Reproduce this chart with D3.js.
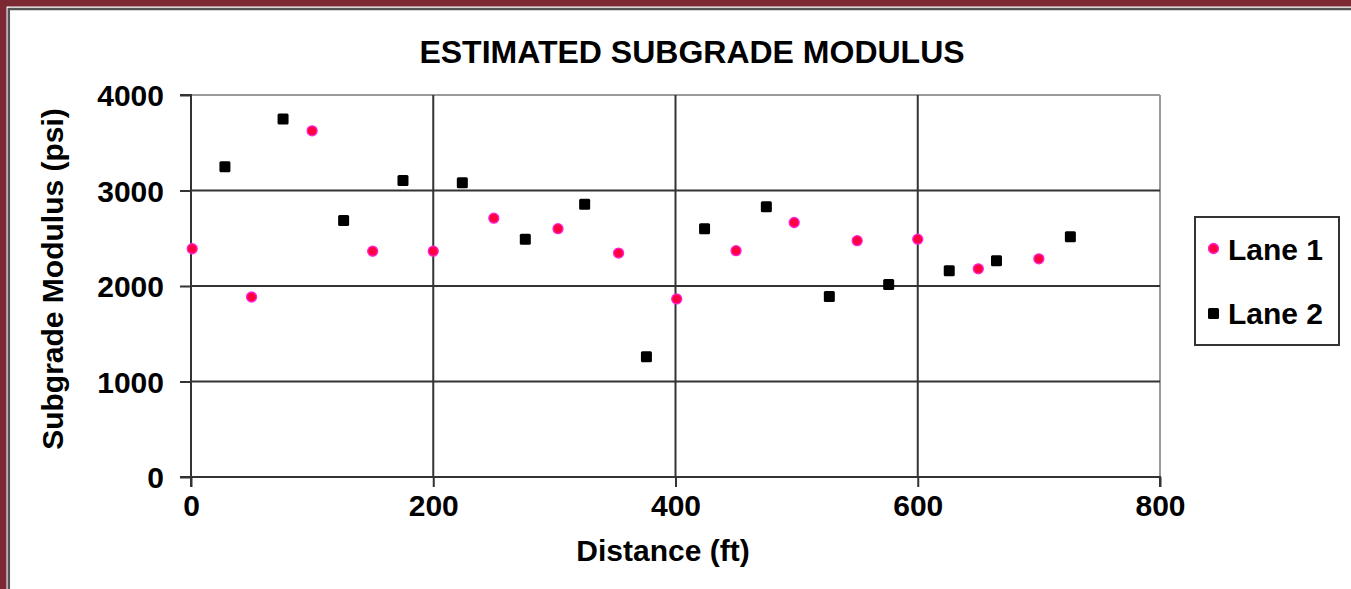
<!DOCTYPE html>
<html>
<head>
<meta charset="utf-8">
<script src="https://cdn.jsdelivr.net/npm/d3@7"></script>
<style>
  html, body { margin: 0; padding: 0; background: #fff; }
  svg { display: block; }
  text { font-family: "Liberation Sans", Arial, sans-serif; font-weight: bold; fill: #000; }
</style>
</head>
<body>
<svg id="chart" width="1351" height="589"></svg>
<script>
const title = "ESTIMATED SUBGRADE MODULUS";
const xTitle = "Distance (ft)";
const yTitle = "Subgrade Modulus (psi)";
const seriesNames = ["Lane 1", "Lane 2"];

const lane1Distance = [1, 50, 100, 150, 200, 250, 303, 353, 401, 450, 498, 550, 600, 650, 700];
const lane1Modulus  = [2390, 1885, 3625, 2365, 2365, 2710, 2600, 2345, 1865, 2370, 2665, 2475, 2490, 2180, 2285];

const lane2Distance = [28, 76, 126, 175, 224, 276, 325, 376, 424, 475, 527, 576, 626, 665, 726];
const lane2Modulus  = [3250, 3750, 2685, 3105, 3080, 2490, 2855, 1260, 2600, 2830, 1890, 2015, 2160, 2265, 2515];

const xTicks = [0, 200, 400, 600, 800];
const yTicks = [0, 1000, 2000, 3000, 4000];

(function () {
const svg = d3.select("#chart");
const W = 1351, H = 589;

// Frame
svg.append("rect").attr("x", 0).attr("y", 0).attr("width", W).attr("height", H).attr("fill", "#fff");
svg.append("rect").attr("x", 0).attr("y", 0).attr("width", W).attr("height", 6.5).attr("fill", "#7d2933");
svg.append("rect").attr("x", 0).attr("y", 0).attr("width", 6.5).attr("height", H).attr("fill", "#7d2933");
svg.append("line").attr("x1", 8.5).attr("x2", W).attr("y1", 9).attr("y2", 9).attr("stroke", "#555").attr("stroke-width", 2.5);
svg.append("line").attr("x1", 8.8).attr("x2", 8.8).attr("y1", 8).attr("y2", H).attr("stroke", "#555").attr("stroke-width", 2.5);

const pL = 191, pR = 1160, pT = 95, pB = 477;
const x = d3.scaleLinear().domain([0, 800]).range([pL, pR]);
const y = d3.scaleLinear().domain([0, 4000]).range([pB, pT]);

// Plot border (top/right lighter)
svg.append("line").attr("x1", pL).attr("x2", pR).attr("y1", pT).attr("y2", pT).attr("stroke", "#9a9a9a").attr("stroke-width", 2);
svg.append("line").attr("x1", pR).attr("x2", pR).attr("y1", pT).attr("y2", pB).attr("stroke", "#9a9a9a").attr("stroke-width", 2);

// Gridlines
const g = svg.append("g");
g.selectAll("line.hg").data(yTicks.filter(d => d > 0 && d < 4000)).enter().append("line")
  .attr("x1", pL).attr("x2", pR).attr("y1", d => y(d)).attr("y2", d => y(d))
  .attr("stroke", "#333").attr("stroke-width", 2);
g.selectAll("line.vg").data(xTicks.filter(d => d > 0 && d < 800)).enter().append("line")
  .attr("x1", d => x(d)).attr("x2", d => x(d)).attr("y1", pT).attr("y2", pB)
  .attr("stroke", "#333").attr("stroke-width", 2);

// Axes
const yAxis = d3.axisLeft(y).tickValues(yTicks).tickSize(11).tickPadding(16).tickFormat(d3.format("d"));
const xAxis = d3.axisBottom(x).tickValues(xTicks).tickSize(10).tickPadding(6).tickFormat(d3.format("d"));

const ya = svg.append("g").attr("transform", `translate(${pL},0)`).call(yAxis);
const xa = svg.append("g").attr("transform", `translate(0,${pB})`).call(xAxis);
[ya, xa].forEach(a => {
  a.select(".domain").attr("stroke", "#333").attr("stroke-width", 2);
  a.selectAll(".tick line").attr("stroke", "#333").attr("stroke-width", 2);
  a.selectAll("text").style("font-family", '"Liberation Sans", Arial, sans-serif')
    .style("font-weight", "bold").style("font-size", "30px").attr("fill", "#000");
});
ya.select(".domain").attr("d", `M-11,${pT}H0V${pB}H-11`);
xa.select(".domain").attr("d", `M${pL},10V0H${pR}V10`);
ya.selectAll("text").attr("dy", "0.36em");
xa.selectAll("text").attr("dy", "0.75em");

// Titles
svg.append("text").attr("x", 692).attr("y", 63).attr("text-anchor", "middle")
  .style("font-size", "32px").text(title);
svg.append("text").attr("x", 663).attr("y", 561).attr("text-anchor", "middle")
  .style("font-size", "30px").text(xTitle);
svg.append("text").attr("transform", "translate(63,279) rotate(-90)").attr("text-anchor", "middle")
  .style("font-size", "30px").text(yTitle);

// Points
const lane1 = lane1Distance.map((d, i) => ({ x: d, y: lane1Modulus[i] }));
const lane2 = lane2Distance.map((d, i) => ({ x: d, y: lane2Modulus[i] }));

svg.append("g").selectAll("circle").data(lane1).enter().append("circle")
  .attr("cx", d => x(d.x)).attr("cy", d => y(d.y)).attr("r", 5)
  .attr("fill", "#ff0040").attr("stroke", "#ff22dd").attr("stroke-width", 1.3);

const sq = 11;
svg.append("g").selectAll("rect").data(lane2).enter().append("rect")
  .attr("x", d => x(d.x) - sq / 2).attr("y", d => y(d.y) - sq / 2)
  .attr("width", sq).attr("height", sq).attr("rx", 1.5).attr("fill", "#000");

// Legend
const lg = svg.append("g");
lg.append("rect").attr("x", 1195).attr("y", 217).attr("width", 144).attr("height", 128)
  .attr("fill", "#fff").attr("stroke", "#333").attr("stroke-width", 2);
lg.append("circle").attr("cx", 1213.5).attr("cy", 248.5).attr("r", 5)
  .attr("fill", "#ff0040").attr("stroke", "#ff22dd").attr("stroke-width", 1.3);
lg.append("rect").attr("x", 1208).attr("y", 308).attr("width", 11).attr("height", 11).attr("rx", 1.5).attr("fill", "#000");
lg.append("text").attr("x", 1228).attr("y", 260).style("font-size", "30px").text(seriesNames[0]);
lg.append("text").attr("x", 1228).attr("y", 324).style("font-size", "30px").text(seriesNames[1]);
})();
</script>
</body>
</html>
